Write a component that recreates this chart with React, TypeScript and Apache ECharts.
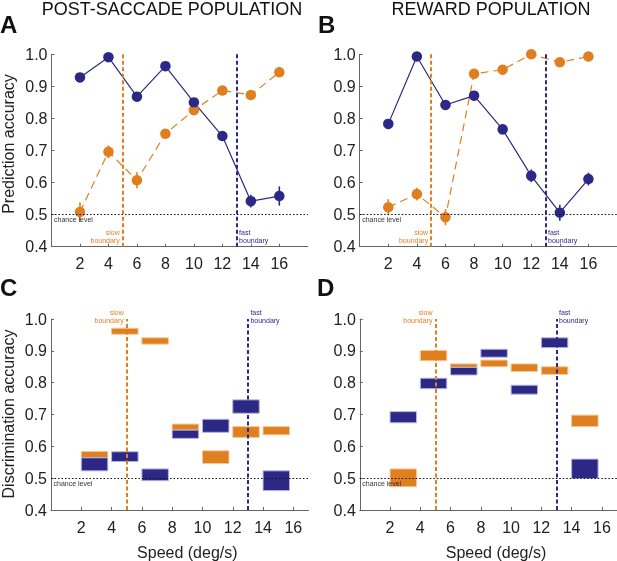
import React, { useEffect, useRef } from "react";
import * as echarts from "echarts";

// ---------- data ----------
const speeds = [2, 4, 6, 8, 10, 12, 14, 16];
const xTickValues = [2, 4, 6, 8, 10, 12, 14, 16];

// Panel A (post-saccade population) prediction accuracy
const postOrange = [0.508, 0.696, 0.607, 0.752, 0.826, 0.887, 0.873, 0.944];
const postOrangeErr = [0.03, 0.02, 0.025, 0.01, 0.01, 0.01, 0.01, 0.01];
const postBlue = [0.928, 0.991, 0.868, 0.963, 0.85, 0.745, 0.542, 0.558];
const postBlueErr = [0.01, 0.01, 0.01, 0.01, 0.01, 0.01, 0.02, 0.03];

// Panel B (reward population) prediction accuracy
const rewOrange = [0.523, 0.564, 0.492, 0.939, 0.952, 1.0, 0.975, 0.993];
const rewOrangeErr = [0.025, 0.02, 0.025, 0.01, 0.01, 0.005, 0.01, 0.005];
const rewBlue = [0.783, 0.993, 0.842, 0.871, 0.766, 0.621, 0.506, 0.611];
const rewBlueErr = [0.01, 0.005, 0.01, 0.01, 0.015, 0.02, 0.025, 0.02];

// Panels C & D discrimination accuracy boxes (bin start speed, low, high)
const binStarts = [2, 4, 6, 8, 10, 12, 14];
const cOrangeLow = [0.564, 0.952, 0.921, 0.651, 0.546, 0.628, 0.636];
const cOrangeHigh = [0.584, 0.971, 0.941, 0.67, 0.586, 0.662, 0.662];
const cBlueLow = [0.523, 0.552, 0.492, 0.625, 0.644, 0.704, 0.461];
const cBlueHigh = [0.564, 0.583, 0.529, 0.651, 0.685, 0.746, 0.523];
const dOrangeLow = [0.473, 0.869, 0.848, 0.85, 0.835, 0.826, 0.662];
const dOrangeHigh = [0.529, 0.901, 0.859, 0.871, 0.859, 0.85, 0.698];
const dBlueLow = [0.674, 0.781, 0.824, 0.88, 0.764, 0.91, 0.499];
const dBlueHigh = [0.709, 0.814, 0.848, 0.905, 0.792, 0.941, 0.56];

const chanceLevel = 0.5;
const slowBoundary = 5;
const fastBoundary = 13;

// ---------- style ----------
const FONT = '"Liberation Sans", Arial, Helvetica, sans-serif';
const BLUE = "#2c2986";
const ORANGE = "#df7f1f";
const BLUE_EDGE = "#b9b7e0";
const ORANGE_EDGE = "#f4c996";
const BOX_W = 1.75;

export default function App() {
  const ref = useRef<HTMLDivElement>(null);

  useEffect(() => {
    const chart = echarts.init(ref.current!, null, { renderer: "svg" });

    const grids = [
      { left: 51.5, top: 54.3, width: 256.3, height: 192.4 },
      { left: 359.7, top: 54.3, width: 257.3, height: 192.4 },
      { left: 51, top: 319, width: 257.5, height: 191 },
      { left: 359.8, top: 319, width: 257.2, height: 191 },
    ].map((g) => ({ ...g, outerBoundsMode: "none", containLabel: false }));

    const xAxes = grids.map((_, i) => ({
      type: "value",
      gridIndex: i,
      min: 0,
      max: i < 2 ? 18 : 17,
      interval: 2,
      splitLine: { show: false },
      axisLine: { lineStyle: { color: "#666", width: 1 } },
      axisTick: {
        inside: true,
        length: 3,
        customValues: xTickValues,
        lineStyle: { color: "#666" },
      },
      axisLabel: {
        customValues: xTickValues,
        fontFamily: FONT,
        fontSize: 16,
        color: "#222",
        margin: 9,
      },
    }));

    const yAxes = grids.map((_, i) => ({
      type: "value",
      gridIndex: i,
      min: 0.4,
      max: 1.0,
      interval: 0.1,
      splitLine: { show: false },
      axisLine: { show: true, lineStyle: { color: "#666", width: 1 } },
      axisTick: { show: true, inside: true, length: 3, lineStyle: { color: "#666" } },
      axisLabel: {
        fontFamily: FONT,
        fontSize: 16,
        color: "#222",
        margin: 4,
        formatter: (v: number) => v.toFixed(1),
      },
    }));

    const refLines = (i: number) => ({
      type: "line",
      xAxisIndex: i,
      yAxisIndex: i,
      data: [],
      silent: true,
      z: 1,
      markLine: {
        silent: true,
        symbol: ["none", "none"],
        label: { show: false },
        animation: false,
        data: [
          { yAxis: chanceLevel, lineStyle: { color: "#111", width: 1.2, type: [1.5, 2] } },
          { xAxis: slowBoundary, lineStyle: { color: ORANGE, width: 2, type: [4, 2.5] } },
          { xAxis: fastBoundary, lineStyle: { color: BLUE, width: 2, type: [4, 2.5] } },
        ],
      },
    });

    const lineSeries = (i: number, vals: number[], color: string, dashed: boolean) => ({
      type: "line",
      xAxisIndex: i,
      yAxisIndex: i,
      data: speeds.map((s, k) => [s, vals[k]]),
      symbol: "circle",
      symbolSize: 10.5,
      itemStyle: { color },
      lineStyle: { color, width: 1.2, type: dashed ? [8, 5] : "solid" },
      z: 3,
    });

    const errSeries = (i: number, vals: number[], errs: number[], color: string) => ({
      type: "custom",
      xAxisIndex: i,
      yAxisIndex: i,
      data: speeds.map((s, k) => [s, vals[k] - errs[k], vals[k] + errs[k]]),
      encode: { x: 0, y: [1, 2] },
      z: 4,
      renderItem: (_p: any, api: any) => {
        const x = api.value(0);
        const a = api.coord([x, api.value(1)]);
        const b = api.coord([x, api.value(2)]);
        return {
          type: "line",
          shape: { x1: a[0], y1: a[1], x2: b[0], y2: b[1] },
          style: { stroke: color, lineWidth: 1.6 },
        };
      },
    });

    const boxSeries = (i: number, lows: number[], highs: number[], color: string, edge: string) => ({
      type: "custom",
      xAxisIndex: i,
      yAxisIndex: i,
      data: binStarts.map((s, k) => [s, lows[k], highs[k]]),
      encode: { x: 0, y: [1, 2] },
      z: 3,
      renderItem: (_p: any, api: any) => {
        const x0 = api.value(0);
        const a = api.coord([x0, api.value(2)]);
        const b = api.coord([x0 + BOX_W, api.value(1)]);
        return {
          type: "rect",
          shape: { x: a[0], y: a[1], width: b[0] - a[0], height: b[1] - a[1] },
          style: { fill: color, stroke: edge, lineWidth: 1 },
        };
      },
    });

    const series: any[] = [
      refLines(0),
      lineSeries(0, postOrange, ORANGE, true),
      errSeries(0, postOrange, postOrangeErr, ORANGE),
      lineSeries(0, postBlue, BLUE, false),
      errSeries(0, postBlue, postBlueErr, BLUE),
      refLines(1),
      lineSeries(1, rewOrange, ORANGE, true),
      errSeries(1, rewOrange, rewOrangeErr, ORANGE),
      lineSeries(1, rewBlue, BLUE, false),
      errSeries(1, rewBlue, rewBlueErr, BLUE),
      refLines(2),
      boxSeries(2, cOrangeLow, cOrangeHigh, ORANGE, ORANGE_EDGE),
      boxSeries(2, cBlueLow, cBlueHigh, BLUE, BLUE_EDGE),
      refLines(3),
      boxSeries(3, dOrangeLow, dOrangeHigh, ORANGE, ORANGE_EDGE),
      boxSeries(3, dBlueLow, dBlueHigh, BLUE, BLUE_EDGE),
    ];

    chart.setOption({
      animation: false,
      grid: grids,
      xAxis: xAxes,
      yAxis: yAxes,
      series,
    });

    // ---------- annotation texts positioned through the axes ----------
    const px = (i: number, x: number, y: number) =>
      chart.convertToPixel({ gridIndex: i } as any, [x, y]) as number[];

    const txt = (text: string, x: number, y: number, o: any = {}) => ({
      type: "text",
      x,
      y,
      rotation: o.rotation || 0,
      silent: true,
      z: 10,
      style: {
        text,
        fontFamily: FONT,
        fontSize: o.fontSize || 16,
        fontWeight: o.fontWeight || "normal",
        fill: o.fill || "#111",
        align: o.align || "left",
        verticalAlign: o.verticalAlign || "middle",
      },
    });

    const small = { fontSize: 7 };
    const graphics: any[] = [
      txt("POST-SACCADE POPULATION", 172, 9, { fontSize: 18, align: "center" }),
      txt("REWARD POPULATION", 491, 9, { fontSize: 18, align: "center" }),
      txt("A", 0, 24.5, { fontSize: 24, fontWeight: "bold" }),
      txt("B", 318, 24.5, { fontSize: 24, fontWeight: "bold" }),
      txt("C", 0, 287, { fontSize: 24, fontWeight: "bold" }),
      txt("D", 317, 287, { fontSize: 24, fontWeight: "bold" }),
      txt("Prediction accuracy", 8, 144, { rotation: Math.PI / 2, align: "center", fill: "#222" }),
      txt("Discrimination accuracy", 8, 414, { rotation: Math.PI / 2, align: "center", fill: "#222" }),
    ];

    for (let i = 2; i < 4; i++) {
      const p = px(i, 9, 0.4);
      graphics.push(txt("Speed (deg/s)", p[0], 552, { align: "center", fill: "#222" }));
    }

    for (let i = 0; i < 4; i++) {
      const c = px(i, 0, chanceLevel);
      graphics.push(txt("chance level", c[0] + 2.5, c[1] + 5, { ...small, fill: "#333" }));
      const top = i < 2;
      const s = px(i, slowBoundary, top ? 0.4 : 1.0);
      const f = px(i, fastBoundary, top ? 0.4 : 1.0);
      const y1 = top ? s[1] - 14 : s[1] - 6.5;
      const y2 = top ? s[1] - 6.5 : s[1] + 1;
      graphics.push(txt("slow", s[0] - 3, y1, { ...small, fill: ORANGE, align: "right" }));
      graphics.push(txt("boundary", s[0] - 3, y2, { ...small, fill: ORANGE, align: "right" }));
      graphics.push(txt("fast", f[0] + 2.5, y1, { ...small, fill: BLUE }));
      graphics.push(txt("boundary", f[0] + 2.5, y2, { ...small, fill: BLUE }));
    }

    chart.setOption({ graphic: graphics });

    return () => chart.dispose();
  }, []);

  return (
    <div
      ref={ref}
      style={{ position: "fixed", left: 0, top: 0, width: 617, height: 561 }}
    />
  );
}
